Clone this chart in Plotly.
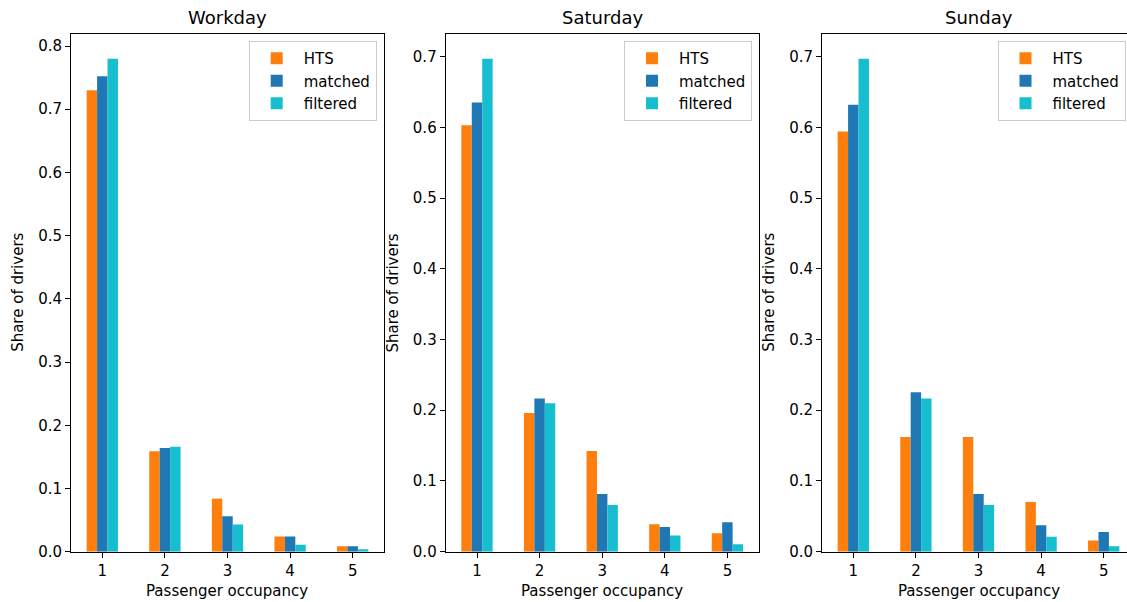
import plotly.graph_objects as go

occupancy = [1, 2, 3, 4, 5]
day_titles = ["Workday", "Saturday", "Sunday"]
series_names = ["HTS", "matched", "filtered"]
series_colors = ["#ff7f0e", "#1f77b4", "#17becf"]

workday_hts = [0.730, 0.159, 0.084, 0.024, 0.0085]
workday_matched = [0.752, 0.164, 0.056, 0.024, 0.0085]
workday_filtered = [0.780, 0.166, 0.043, 0.011, 0.004]

saturday_hts = [0.603, 0.196, 0.1425, 0.0387, 0.026]
saturday_matched = [0.635, 0.2165, 0.0816, 0.035, 0.0415]
saturday_filtered = [0.697, 0.210, 0.066, 0.023, 0.0104]

sunday_hts = [0.594, 0.162, 0.162, 0.0703, 0.016]
sunday_matched = [0.632, 0.2255, 0.0816, 0.0373, 0.028]
sunday_filtered = [0.697, 0.2165, 0.066, 0.021, 0.0076]

panels = [
    [workday_hts, workday_matched, workday_filtered],
    [saturday_hts, saturday_matched, saturday_filtered],
    [sunday_hts, sunday_matched, sunday_filtered],
]

W, H = 1127, 602
FONT = "DejaVu Sans"
# axes boxes in pixels (left, right)
x_px = [(71, 383.7), (445.7, 759), (822, 1127)]
top_px, bottom_px = 34, 551.7
unit_px = 62.6  # pixels per category unit

fig = go.Figure()
layout = dict(
    template="none",
    width=W, height=H,
    margin=dict(l=0, r=0, t=0, b=0, autoexpand=False),
    paper_bgcolor="white", plot_bgcolor="white",
    barmode="group", bargap=0.5, bargroupgap=0,
    font=dict(family=FONT, size=15, color="#000000"),
    showlegend=True,
    annotations=[],
)

ydom = [(H - bottom_px) / H, (H - top_px) / H]
for i, (title, vals) in enumerate(zip(day_titles, panels)):
    n = "" if i == 0 else str(i + 1)
    xa, ya = "x" + n, "y" + n
    leg = "legend" + n
    for name, col, v in zip(series_names, series_colors, vals):
        fig.add_trace(go.Bar(
            x=occupancy, y=v, name=name, marker_color=col,
            marker_line_width=0, xaxis=xa, yaxis=ya, legend=leg,
            offsetgroup=name,
        ))
    l, r = x_px[i]
    width_units = (r - l) / unit_px
    ymax = max(max(s) for s in vals) * 1.05
    layout["xaxis" + n] = dict(
        domain=[l / W, r / W], anchor=ya, range=[0.5, 0.5 + width_units],
        automargin=False,
        tickmode="array", tickvals=occupancy, ticktext=[str(o) for o in occupancy],
        ticks="outside", ticklen=5, tickwidth=1, tickcolor="#000",
        showline=True, linecolor="#000", linewidth=1, mirror=True,
        showgrid=False, zeroline=False,
        tickfont=dict(size=15),
        title=dict(text=""),
    )
    layout["yaxis" + n] = dict(
        domain=ydom, anchor=xa, range=[0, ymax],
        automargin=False,
        dtick=0.1, tick0=0, tickformat=".1f",
        ticks="outside", ticklen=5, tickwidth=1, tickcolor="#000",
        showline=True, linecolor="#000", linewidth=1, mirror=(i < 2),
        showgrid=False, zeroline=False,
        tickfont=dict(size=15),
        title=dict(text=""),
    )
    layout[leg] = dict(
        x=(r - 7) / W if i < 2 else 1125.5 / W, xanchor="right",
        y=(H - 41) / H, yanchor="top",
        bordercolor="#cccccc", borderwidth=1, bgcolor="rgba(255,255,255,0.8)",
        font=dict(size=15, family=FONT), tracegroupgap=0, itemwidth=44,
    )
    full_r = r if i < 2 else l + 313
    layout["annotations"].append(dict(
        text=title, x=(l + full_r) / 2 / W, xref="paper",
        y=(H - 17) / H, yref="paper", showarrow=False,
        font=dict(size=18, family=FONT), xanchor="center", yanchor="middle",
    ))
    # axis titles
    layout["annotations"].append(dict(
        text="Passenger occupancy", x=(l + full_r) / 2 / W, xref="paper",
        y=(H - 591) / H, yref="paper", showarrow=False,
        font=dict(size=15, family=FONT), xanchor="center", yanchor="middle",
    ))
    layout["annotations"].append(dict(
        text="Share of drivers", x=(l - 53) / W, xref="paper",
        y=(H - (top_px + bottom_px) / 2) / H, yref="paper", showarrow=False,
        textangle=-90,
        font=dict(size=15, family=FONT), xanchor="center", yanchor="middle",
    ))

fig.update_layout(**layout)
fig.write_html("out.html")
